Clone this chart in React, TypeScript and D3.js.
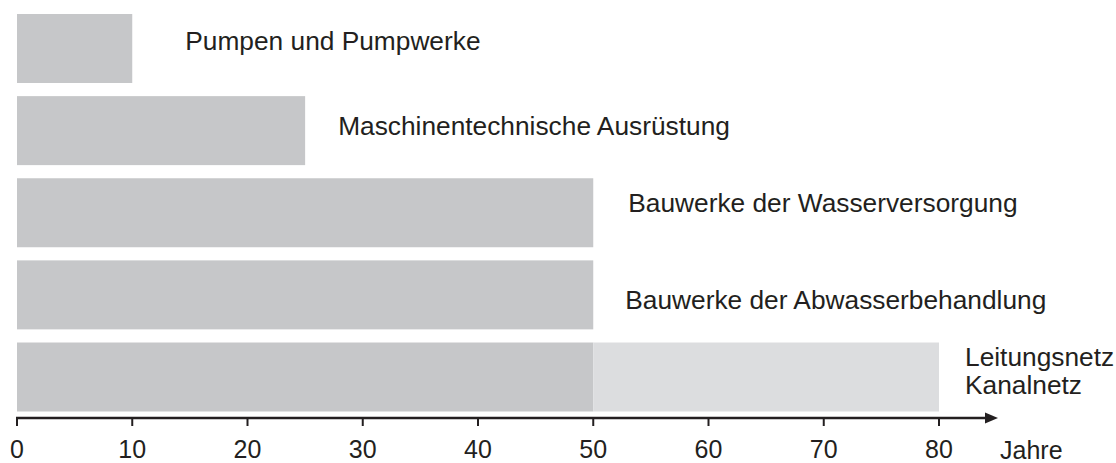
import * as d3 from 'd3';
import { useRef, useEffect } from 'react';

// categories, top to bottom
const categories = [
    'Pumpen und Pumpwerke',
    'Maschinentechnische Ausrüstung',
    'Bauwerke der Wasserversorgung',
    'Bauwerke der Abwasserbehandlung',
    'Leitungsnetz\nKanalnetz',
];

// Nutzungsdauer in Jahren (lower bound), and the extended range on top of it
const baseYears = [10, 25, 50, 50, 50];
const extraYears = [0, 0, 0, 0, 30];

const tickValues = [0, 10, 20, 30, 40, 50, 60, 70, 80];
const axisLabel = 'Jahre';

const App = () => {

    const svgRef = useRef<SVGSVGElement | null>(null)

    useEffect(() => {
        const width = 1116;
        const height = 463;
        const ink = '#231f20';
        const font = '"Liberation Sans", Arial, Helvetica, sans-serif';

        d3.select(svgRef.current).selectAll('*').remove();

        const svg = d3.select(svgRef.current)
            .attr('width', width)
            .attr('height', height)
            .attr('font-family', font);

        const xScale = d3.scaleLinear()
            .domain([0, 80])
            .range([17, 939]);

        const yScale = d3.scaleBand()
            .domain(categories)
            .range([14, 411.5])
            .paddingInner(0.16)
            .paddingOuter(0);

        const rows = categories.map((c, i) => ({ cat: c, base: baseYears[i], extra: extraYears[i] }));

        // base bars
        svg.selectAll('rect.base')
            .data(rows)
            .enter()
            .append('rect')
            .attr('class', 'base')
            .attr('x', xScale(0))
            .attr('y', d => yScale(d.cat)!)
            .attr('width', d => xScale(d.base) - xScale(0))
            .attr('height', yScale.bandwidth())
            .attr('fill', '#c6c7c9');

        // extended range (lighter)
        svg.selectAll('rect.extra')
            .data(rows.filter(d => d.extra > 0))
            .enter()
            .append('rect')
            .attr('class', 'extra')
            .attr('x', d => xScale(d.base))
            .attr('y', d => yScale(d.cat)!)
            .attr('width', d => xScale(d.base + d.extra) - xScale(d.base))
            .attr('height', yScale.bandwidth())
            .attr('fill', '#dcdddf');

        // category labels, right of each bar (hand-tuned offsets, baseline relative to band centre)
        const labelDx = [53, 33, 35, 32, 26];
        const labelDy = [1.5, 4, -1, 14, -11];
        rows.forEach((d, i) => {
            const lines = d.cat.split('\n');
            const x = xScale(d.base + d.extra) + labelDx[i];
            const t = svg.append('text')
                .attr('x', x)
                .attr('y', yScale(d.cat)! + yScale.bandwidth() / 2 + labelDy[i])
                .attr('font-size', 26.3)
                .attr('fill', ink);
            lines.forEach((line, j) => {
                t.append('tspan')
                    .attr('x', x)
                    .attr('dy', j === 0 ? 0 : 28)
                    .text(line);
            });
        });

        // x axis with arrow
        const axisY = 418;
        svg.append('line')
            .attr('x1', xScale(0) - 1)
            .attr('x2', 988)
            .attr('y1', axisY)
            .attr('y2', axisY)
            .attr('stroke', ink)
            .attr('stroke-width', 2.5);

        svg.append('path')
            .attr('d', `M985,${axisY - 5.5} L998,${axisY} L985,${axisY + 5.5} Z`)
            .attr('fill', ink);

        svg.selectAll('line.tick')
            .data(tickValues)
            .enter()
            .append('line')
            .attr('class', 'tick')
            .attr('x1', d => xScale(d))
            .attr('x2', d => xScale(d))
            .attr('y1', axisY)
            .attr('y2', axisY + 8)
            .attr('stroke', ink)
            .attr('stroke-width', 2);

        svg.selectAll('text.tick-label')
            .data(tickValues)
            .enter()
            .append('text')
            .attr('class', 'tick-label')
            .attr('x', d => xScale(d))
            .attr('y', 458)
            .attr('text-anchor', 'middle')
            .attr('font-size', 25)
            .attr('fill', ink)
            .text(d => d);

        svg.append('text')
            .attr('x', 1000)
            .attr('y', 459)
            .attr('font-size', 25)
            .attr('fill', ink)
            .text(axisLabel);

    }, [])

    return (
        <svg ref={svgRef} style={{ position: 'absolute', left: 0, top: 0, background: '#fff' }}></svg>
    )
}

export default App
